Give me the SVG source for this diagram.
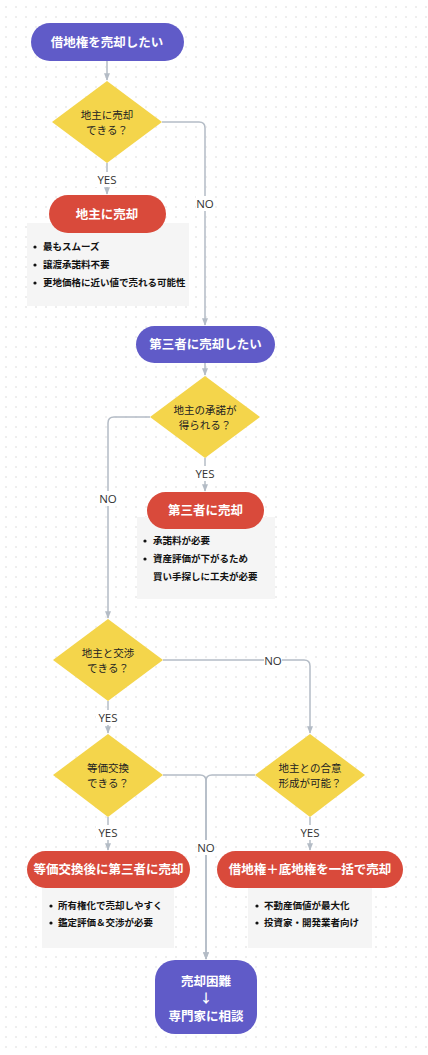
<svg xmlns="http://www.w3.org/2000/svg" width="428" height="1055" viewBox="0 0 428 1055">
<defs>
<pattern id="dots" x="1" y="2" width="10" height="10" patternUnits="userSpaceOnUse">
<circle cx="5" cy="5" r="0.9" fill="#e6e6e6"/>
</pattern>
<marker id="arr" viewBox="0 0 10 10" refX="9" refY="5" markerWidth="5" markerHeight="5" orient="auto-start-reverse">
<path d="M0,1 L10,5 L0,9 z" fill="#b4bcc6"/>
</marker>
<style>
.bg{fill:#ffffff}
.term{fill:#605bc8}
.res{fill:#d94a3b}
.dec{fill:#f4d54b}
.note{fill:#f5f5f5}
.tw{font-family:"Noto Sans CJK JP","Noto Sans",sans-serif;font-size:12.5px;font-weight:bold;fill:#ffffff;text-anchor:middle}
.td{font-family:"Noto Sans CJK JP","Noto Sans",sans-serif;font-size:10.5px;fill:#222222;text-anchor:middle}
.tb{font-family:"Noto Sans CJK JP","Noto Sans",sans-serif;font-size:9.5px;font-weight:bold;fill:#111111}
.lbl{font-family:"Open Sans","Noto Sans",sans-serif;font-size:11.5px;fill:#333333;text-anchor:middle}
.lb{fill:#ffffff}
.edge{fill:none;stroke:#b4bcc6;stroke-width:1.5}
</style>
</defs>
<rect class="bg" x="0" y="0" width="428" height="1055"/>
<rect x="0" y="0" width="428" height="1055" fill="url(#dots)"/>

<g id="connectors">
<path class="edge" d="M107,61 L107,80" marker-end="url(#arr)"/>
<path class="edge" d="M107,163 L107,194" marker-end="url(#arr)"/>
<path class="edge" d="M162,122 L199,122 Q205,122 205,128 L205,325" marker-end="url(#arr)"/>
<path class="edge" d="M205,363 L205,375" marker-end="url(#arr)"/>
<path class="edge" d="M205,458 L205,491" marker-end="url(#arr)"/>
<path class="edge" d="M150,417 L114,417 Q108,417 108,423 L108,618" marker-end="url(#arr)"/>
<path class="edge" d="M108,701 L108,733" marker-end="url(#arr)"/>
<path class="edge" d="M163,660 L304,660 Q310,660 310,666 L310,733" marker-end="url(#arr)"/>
<path class="edge" d="M108,817 L108,850" marker-end="url(#arr)"/>
<path class="edge" d="M310,817 L310,850" marker-end="url(#arr)"/>
<path class="edge" d="M163,775 L200,775 Q206,775 206,781 L206,959" marker-end="url(#arr)"/>
<path class="edge" d="M255,775 L212,775 Q206,775 206,781 L206,959" marker-end="url(#arr)"/>
<rect class="lb" x="95" y="172" width="24" height="15"/>
<text class="lbl" x="107" y="184">YES</text>
<rect class="lb" x="196" y="196" width="18" height="15"/>
<text class="lbl" x="205" y="208">NO</text>
<rect class="lb" x="193" y="466" width="24" height="15"/>
<text class="lbl" x="205" y="478">YES</text>
<rect class="lb" x="99" y="491" width="18" height="15"/>
<text class="lbl" x="108" y="503">NO</text>
<rect class="lb" x="96" y="710" width="24" height="15"/>
<text class="lbl" x="108" y="722">YES</text>
<rect class="lb" x="264" y="653" width="18" height="15"/>
<text class="lbl" x="273" y="665">NO</text>
<rect class="lb" x="96" y="825" width="24" height="15"/>
<text class="lbl" x="108" y="837">YES</text>
<rect class="lb" x="298" y="825" width="24" height="15"/>
<text class="lbl" x="310" y="837">YES</text>
<rect class="lb" x="197" y="840" width="18" height="15"/>
<text class="lbl" x="206" y="852">NO</text>
</g>

<g id="n-start">
<rect class="term" x="31" y="23" width="153" height="38" rx="19"/>
<text class="tw" x="107" y="46.5">借地権を売却したい</text>
</g>

<g id="d-1">
<polygon class="dec" points="107,81 162,122 107,163 52,122"/>
<text class="td" x="107" y="119">地主に売却</text>
<text class="td" x="107" y="134">できる？</text>
</g>

<g id="note-1">
<rect class="note" x="27" y="223" width="162" height="83"/>
<circle cx="35" cy="247" r="1.6" fill="#111"/>
<text class="tb" x="43" y="250">最もスムーズ</text>
<circle cx="35" cy="265" r="1.6" fill="#111"/>
<text class="tb" x="43" y="268">譲渡承諾料不要</text>
<circle cx="35" cy="283" r="1.6" fill="#111"/>
<text class="tb" x="43" y="286">更地価格に近い値で売れる可能性</text>
</g>
<g id="r-1">
<rect class="res" x="49" y="195" width="117" height="38" rx="19"/>
<text class="tw" x="107" y="218.5">地主に売却</text>
</g>

<g id="n-third">
<rect class="term" x="136" y="326" width="139" height="37" rx="18.5"/>
<text class="tw" x="205.5" y="348.5">第三者に売却したい</text>
</g>

<g id="d-2">
<polygon class="dec" points="205,376 260,417 205,458 150,417"/>
<text class="td" x="205" y="414">地主の承諾が</text>
<text class="td" x="205" y="429">得られる？</text>
</g>

<g id="note-2">
<rect class="note" x="137" y="517" width="138" height="82"/>
<circle cx="145" cy="541" r="1.6" fill="#111"/>
<text class="tb" x="153" y="544">承諾料が必要</text>
<circle cx="145" cy="559" r="1.6" fill="#111"/>
<text class="tb" x="153" y="562">資産評価が下がるため</text>
<text class="tb" x="153" y="580">買い手探しに工夫が必要</text>
</g>
<g id="r-2">
<rect class="res" x="147" y="492" width="117" height="37" rx="18.5"/>
<text class="tw" x="205.5" y="514.5">第三者に売却</text>
</g>

<g id="d-3">
<polygon class="dec" points="108,619 163,660 108,701 53,660"/>
<text class="td" x="108" y="657">地主と交渉</text>
<text class="td" x="108" y="672">できる？</text>
</g>

<g id="d-4">
<polygon class="dec" points="108,734 163,775 108,817 53,775"/>
<text class="td" x="108" y="772">等価交換</text>
<text class="td" x="108" y="787">できる？</text>
</g>

<g id="d-5">
<polygon class="dec" points="310,734 365,775 310,817 255,775"/>
<text class="td" x="310" y="772">地主との合意</text>
<text class="td" x="310" y="787">形成が可能？</text>
</g>

<g id="note-3">
<rect class="note" x="42" y="876" width="132" height="72"/>
<circle cx="51" cy="906" r="1.6" fill="#111"/>
<text class="tb" x="58" y="909">所有権化で売却しやすく</text>
<circle cx="51" cy="923" r="1.6" fill="#111"/>
<text class="tb" x="58" y="926">鑑定評価＆交渉が必要</text>
</g>
<g id="r-3">
<rect class="res" x="27" y="851" width="163" height="37" rx="18.5"/>
<text class="tw" x="108.5" y="873.5">等価交換後に第三者に売却</text>
</g>

<g id="note-4">
<rect class="note" x="248" y="876" width="124" height="72"/>
<circle cx="257" cy="906" r="1.6" fill="#111"/>
<text class="tb" x="264" y="909">不動産価値が最大化</text>
<circle cx="257" cy="923" r="1.6" fill="#111"/>
<text class="tb" x="264" y="926">投資家・開発業者向け</text>
</g>
<g id="r-4">
<rect class="res" x="217" y="851" width="186" height="37" rx="18.5"/>
<text class="tw" x="310" y="873.5">借地権＋底地権を一括で売却</text>
</g>

<g id="n-end">
<rect class="term" x="155" y="960" width="102" height="74" rx="20"/>
<text class="tw" x="206" y="986">売却困難</text>
<text class="tw" x="206" y="1003">↓</text>
<text class="tw" x="206" y="1021">専門家に相談</text>
</g>
</svg>
